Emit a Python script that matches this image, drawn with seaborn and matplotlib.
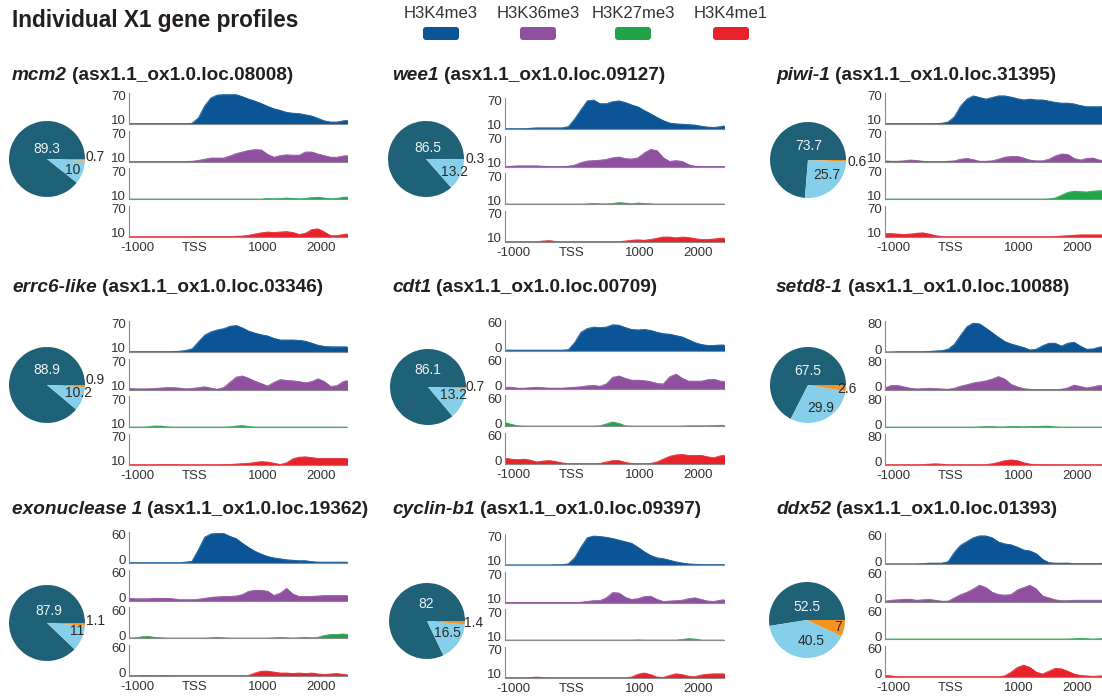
import numpy as np
import pandas as pd
import matplotlib
matplotlib.use("Agg")
import matplotlib.pyplot as plt
import matplotlib.transforms as mtransforms
import seaborn as sns
from matplotlib.patches import FancyBboxPatch

sns.set_theme(style="white")
plt.rcParams['font.family'] = ['Liberation Sans', 'DejaVu Sans']
plt.rcParams['patch.force_edgecolor'] = False

# ---------------- data ----------------
MARKS = ["H3K4me3", "H3K36me3", "H3K27me3", "H3K4me1"]
GENES = ["mcm2", "wee1", "piwi-1", "errc6-like", "cdt1", "setd8-1",
         "exonuclease 1", "cyclin-b1", "ddx52"]
LOCI = ["(asx1.1_ox1.0.loc.08008)", "(asx1.1_ox1.0.loc.09127)", "(asx1.1_ox1.0.loc.31395)",
        "(asx1.1_ox1.0.loc.03346)", "(asx1.1_ox1.0.loc.00709)", "(asx1.1_ox1.0.loc.10088)",
        "(asx1.1_ox1.0.loc.19362)", "(asx1.1_ox1.0.loc.09397)", "(asx1.1_ox1.0.loc.01393)"]
PIE_DARK = [89.3, 86.5, 73.7, 88.9, 86.1, 67.5, 87.9, 82, 52.5]
PIE_LIGHT = [10, 13.2, 25.7, 10.2, 13.2, 29.9, 11, 16.5, 40.5]
PIE_ORANGE = [0.7, 0.3, 0.6, 0.9, 0.7, 2.6, 1.1, 1.4, 7]
Y_TICKS = [(10, 70), (10, 70), (10, 70), (10, 70), (0, 60), (0, 80), (0, 60), (10, 70), (0, 60)]
X_TICKS = [-1000, 0, 1000, 2000]
X_TICK_LABELS = ["-1000", "TSS", "1000", "2000"]
POSITIONS = list(range(-1000, 2501, 100))

MCM2_K4ME3 = [1, 1, 1, 1, 1, 1, 1, 1, 1, 1, 2, 15, 45, 65, 72, 73, 73, 73, 68, 62, 57, 51, 44, 38, 34, 29, 27, 26, 23, 20, 14, 8, 5, 5, 8, 10]
MCM2_K36ME3 = [0.5, 0.5, 0.5, 0.5, 0.5, 0.5, 0.5, 0.5, 0.5, 0.5, 1, 3, 6, 9, 9, 9, 14, 20, 24, 28, 30, 29, 18, 11, 15, 17, 16, 16, 24, 24, 19, 15, 11, 11, 14, 16]
MCM2_K27ME3 = [0.5] * 22 + [2, 1, 1.5, 3, 2, 1, 2, 4, 5, 3, 1, 2, 5, 6]
MCM2_K4ME1 = [0.5] * 10 + [1, 1, 1, 1, 1, 1, 1, 1.5, 2, 4, 7, 10, 12, 11, 12, 13, 11, 6, 9, 18, 20, 12, 3, 3, 6, 8]

WEE1_K4ME3 = [1, 1, 1, 1, 2, 3, 3, 3, 3, 3, 6, 25, 48, 70, 72, 63, 63, 68, 70, 66, 60, 55, 46, 38, 29, 21, 15, 13, 12, 11, 10, 7, 5, 4, 6, 9]
WEE1_K36ME3 = [0.5, 1, 2, 2, 2, 2, 1, 0.5, 0.5, 0.5, 1, 4, 10, 14, 15, 16, 18, 22, 24, 20, 19, 22, 34, 43, 40, 22, 13, 15, 13, 5, 1, 0.5, 0.5, 0.5, 0.5, 0.5]
WEE1_K27ME3 = [0.5] * 13 + [1, 2, 1, 1, 2, 4, 3, 1, 3, 2, 1] + [0.5] * 12
WEE1_K4ME1 = [0.5, 0.5, 0.5, 0.5, 0.5, 0.5, 2, 3, 1, 0.5, 0.5] + [0.5] * 8 + [2, 4, 5, 4, 6, 9, 12, 12, 10, 12, 11, 8, 6, 6, 7, 9, 9]

PIWI1_K4ME3 = [1, 1, 1, 1, 1, 1, 1, 1, 1.5, 2, 5, 18, 45, 62, 70, 66, 62, 66, 70, 70, 67, 63, 60, 62, 60, 60, 57, 54, 52, 52, 50, 46, 43, 43, 43, 44]
PIWI1_K36ME3 = [2, 1, 1, 2, 4, 3, 1, 0.5, 0.5, 0.5, 1, 2, 6, 8, 5, 1, 1, 2, 6, 11, 13, 13, 9, 4, 2, 2, 6, 14, 19, 18, 8, 4, 8, 9, 4, 2]
PIWI1_K27ME3 = [0.5] * 26 + [1, 3, 10, 17, 20, 19, 18, 20, 21, 21]
PIWI1_K4ME1 = [8, 8, 7, 6, 7, 9, 10, 7, 3, 1] + [0.5] * 17 + [1, 2, 3, 4, 5, 5, 5, 5, 5]

ERRC6_K4ME3 = [1, 1, 1, 1, 1, 1, 1, 1.5, 2, 4, 8, 25, 42, 50, 55, 58, 64, 66, 60, 52, 47, 43, 40, 34, 30, 30, 30, 29, 27, 22, 17, 14, 13, 13, 13, 13]
ERRC6_K36ME3 = [3, 2, 2, 2, 3, 4, 5, 5, 4, 2, 3, 5, 7, 4, 1, 5, 18, 31, 34, 28, 21, 15, 9, 18, 25, 23, 22, 20, 17, 20, 27, 20, 8, 10, 20, 24]
ERRC6_K27ME3 = [0.5, 0.5, 0.5, 1, 3, 3, 1, 0.5, 0.5, 0.5, 0.5, 0.5, 0.5, 0.5, 0.5, 0.5, 1, 3, 4, 2] + [0.5] * 16
ERRC6_K4ME1 = [0.5, 0.5, 0.5, 0.5, 0.5, 1, 1, 1, 0.5, 0.5, 0.5, 0.5, 0.5, 0.5, 0.5, 1, 1, 2, 3, 4, 6, 8, 7, 4, 1, 5, 15, 19, 20, 18, 16, 16, 16, 16, 16, 16]

CDT1_K4ME3 = [2, 2, 2, 2, 2, 2, 2, 2, 2, 2, 3, 18, 40, 48, 51, 50, 51, 56, 55, 50, 46, 45, 46, 44, 40, 37, 36, 33, 30, 24, 18, 14, 12, 12, 13, 13]
CDT1_K36ME3 = [3, 3, 1, 1, 2, 3, 2, 1, 1, 1, 2, 3, 4, 6, 7, 5, 10, 24, 27, 22, 18, 18, 17, 15, 11, 10, 25, 31, 22, 16, 16, 16, 19, 20, 16, 15]
CDT1_K27ME3 = [8, 4, 1] + [0.5] * 12 + [1, 5, 9, 6, 1] + [0.5] * 9 + [1, 1, 1, 1, 1.5, 2, 2]
CDT1_K4ME1 = [12, 10, 9, 10, 8, 4, 6, 7, 5, 2, 0.5, 0.5, 0.5, 0.5, 0.5, 1, 4, 7, 7, 3, 1, 0.5, 0.5, 1, 4, 10, 16, 19, 20, 18, 18, 18, 15, 13, 17, 19]

SETD8_K4ME3 = [0.5, 0.5, 1, 1, 1, 1, 1, 2, 3, 4, 8, 22, 48, 72, 82, 80, 68, 55, 42, 30, 23, 18, 13, 6, 8, 18, 25, 25, 17, 25, 28, 17, 8, 9, 14, 16]
SETD8_K36ME3 = [5, 12, 12, 8, 4, 2, 3, 4, 3, 2, 1, 4, 10, 14, 19, 22, 25, 30, 37, 30, 15, 8, 3, 1, 0.5, 0.5, 0.5, 0.5, 1, 5, 13, 9, 5, 8, 12, 12]
SETD8_K27ME3 = [0.5] * 15 + [1, 2, 2, 1, 1, 2, 2, 1, 2, 2, 3, 3, 1] + [0.5] * 8
SETD8_K4ME1 = [0.5, 0.5, 0.5, 0.5, 0.5, 0.5, 1, 2, 3, 2, 0.5, 0.5, 0.5, 0.5, 0.5, 0.5, 1, 3, 7, 12, 14, 12, 6, 2, 1, 1, 1, 0.5, 0.5, 0.5, 0.5, 0.5, 0.5, 0.5, 0.5, 0.5]

EXO1_K4ME3 = [1, 1, 1, 1, 1, 1, 1, 1, 1, 2, 4, 28, 55, 62, 63, 63, 57, 52, 42, 33, 25, 19, 14, 11, 9, 7, 6, 5, 5, 3, 2, 2, 2, 2, 2, 2]
EXO1_K36ME3 = [5, 4, 4, 4, 5, 5, 5, 4, 2, 2, 2, 3, 5, 7, 8, 9, 9, 10, 13, 20, 22, 22, 20, 11, 16, 26, 14, 9, 9, 9, 10, 11, 11, 11, 11, 11]
EXO1_K27ME3 = [0.5, 1, 3, 4, 2, 1, 0.5, 0.5, 0.5, 0.5, 0.5, 0.5, 0.5, 1, 2, 1, 0.5, 0.5, 0.5, 0.5, 0.5, 0.5, 0.5, 1, 2, 1, 0.5, 1, 2, 1, 2, 6, 8, 8, 9, 8]
EXO1_K4ME1 = [0.5, 0.5, 1, 1, 0.5, 1, 1, 0.5, 0.5, 0.5, 0.5, 0.5, 0.5, 0.5, 0.5, 0.5, 0.5, 0.5, 0.5, 1, 6, 10, 10, 8, 6, 6, 5, 6, 5, 6, 4, 3, 4, 5, 3, 2]

CCNB1_K4ME3 = [0.5, 0.5, 0.5, 0.5, 0.5, 0.5, 0.5, 0.5, 1, 1, 3, 18, 45, 68, 72, 71, 69, 66, 62, 58, 54, 44, 33, 24, 18, 16, 12, 8, 5, 3, 2, 1.5, 1.5, 1.5, 1.5, 1.5]
CCNB1_K36ME3 = [0.5] * 12 + [1, 3, 5, 5, 12, 25, 24, 13, 8, 10, 15, 16, 8, 3, 4, 5, 6, 10, 12, 8, 4, 3, 6, 8]
CCNB1_K27ME3 = [0.5] * 21 + [1, 0.5, 0.5, 0.5, 0.5, 0.5, 0.5, 2, 4, 3, 0.5, 0.5, 0.5, 0.5, 0.5]
CCNB1_K4ME1 = [0.5, 0.5, 0.5, 0.5, 1, 2, 1, 0.5, 0.5, 0.5, 0.5, 0.5, 0.5, 0.5, 0.5, 0.5, 0.5, 0.5, 0.5, 0.5, 2, 9, 12, 8, 2, 1, 6, 10, 8, 4, 3, 7, 9, 10, 10, 10]

DDX52_K4ME3 = [0.5, 0.5, 0.5, 0.5, 0.5, 0.5, 1, 2, 2, 2, 5, 25, 40, 48, 56, 60, 60, 56, 47, 43, 41, 36, 30, 28, 22, 10, 3, 2, 2, 2, 1, 1, 1, 1, 1, 3]
DDX52_K36ME3 = [1, 3, 4, 5, 5, 3, 4, 5, 3, 1, 1, 8, 15, 20, 27, 35, 30, 20, 15, 14, 15, 25, 30, 35, 27, 12, 8, 4, 2, 2, 3, 3, 3, 3, 3, 3]
DDX52_K27ME3 = [0.5] * 30 + [1, 2, 1, 0.5, 1, 2]
DDX52_K4ME1 = [3, 2] + [0.5] * 17 + [2, 10, 20, 25, 20, 10, 6, 12, 18, 17, 12, 6, 3, 2, 1, 2, 2]

SERIES = [
    [MCM2_K4ME3, MCM2_K36ME3, MCM2_K27ME3, MCM2_K4ME1],
    [WEE1_K4ME3, WEE1_K36ME3, WEE1_K27ME3, WEE1_K4ME1],
    [PIWI1_K4ME3, PIWI1_K36ME3, PIWI1_K27ME3, PIWI1_K4ME1],
    [ERRC6_K4ME3, ERRC6_K36ME3, ERRC6_K27ME3, ERRC6_K4ME1],
    [CDT1_K4ME3, CDT1_K36ME3, CDT1_K27ME3, CDT1_K4ME1],
    [SETD8_K4ME3, SETD8_K36ME3, SETD8_K27ME3, SETD8_K4ME1],
    [EXO1_K4ME3, EXO1_K36ME3, EXO1_K27ME3, EXO1_K4ME1],
    [CCNB1_K4ME3, CCNB1_K36ME3, CCNB1_K27ME3, CCNB1_K4ME1],
    [DDX52_K4ME3, DDX52_K36ME3, DDX52_K27ME3, DDX52_K4ME1],
]

# ---------------- styles / layout ----------------
MARK_COLORS = ["#0b5596", "#8e509f", "#22a34a", "#e8222b"]
PIE_COLORS = ["#1f6176", "#85cfea", "#f6921e"]
TXT = "#231f20"
W, H = 1102, 697

COL_LEFT = [129, 505, 885]
COL_WIDTH = [218, 219, 218]
TRACK1_BOTTOM = [[124, 129, 124], [352, 351, 352], [563, 565, 564]]
TRACK_H = 31
PITCH = 37.6
TITLE_X = [12, 392, 776]
TITLE_Y = [75, 288, 510]
PIE_CENTER = [(47, 159), (426, 159), (808, 160), (47, 385), (428, 387), (808, 385),
              (47, 623), (427, 621), (807, 620)]
PIE_R = 38
DARK_LBL = [(0, 0.26), (0.06, 0.3), (0.03, 0.38), (0, 0.4), (0, 0.44), (0, 0.36),
            (0.04, 0.31), (-0.03, 0.46), (0, 0.34)]
LIGHT_LBL = [(0.68, -0.3), (0.76, -0.35), (0.5, -0.4), (0.82, -0.2), (0.68, -0.22),
             (0.33, -0.6), (0.78, -0.22), (0.53, -0.32), (0.12, -0.54)]
ORANGE_LBL = [(1.02, 0.06), (1.04, 0.0), (1.04, -0.06), (1.02, 0.12), (1.0, 0.0),
              (0.76, -0.1), (1.03, 0.05), (0.98, -0.04), (0.72, -0.19)]
XLABEL_DX = [8, 3, 8, 3]  # px shift of the x tick labels, as in the reference

fig = plt.figure(figsize=(W / 100, H / 100), dpi=100)


def px_axes(x, y_top, w, h):
    return fig.add_axes([x / W, 1 - (y_top + h) / H, w / W, h / H])


overlay = fig.add_axes([0, 0, 1, 1])
overlay.set_xlim(0, W)
overlay.set_ylim(H, 0)
overlay.axis("off")

overlay.text(12, 20, "Individual X1 gene profiles", fontsize=16.3, fontweight="bold",
             ha="left", va="center", color=TXT)
for mark, color, cx in zip(MARKS, MARK_COLORS, [441, 538, 633, 731]):
    overlay.text(cx, 14, mark, ha="center", va="center", fontsize=12, color="#333333")
    overlay.add_patch(FancyBboxPatch((cx - 15, 30), 30, 7, boxstyle="round,pad=3",
                                     fc=color, ec="none"))

fig.canvas.draw()
renderer = fig.canvas.get_renderer()

for p in range(9):
    row, col = divmod(p, 3)
    # title
    t1 = overlay.text(TITLE_X[col], TITLE_Y[row], GENES[p], fontsize=13.7, fontweight="bold",
                      fontstyle="italic", ha="left", va="center", color=TXT)
    wpx = t1.get_window_extent(renderer=renderer).width
    overlay.text(TITLE_X[col] + wpx + 5, TITLE_Y[row], LOCI[p], fontsize=13.7,
                 fontweight="bold", ha="left", va="center", color=TXT)

    # pie
    cx, cy = PIE_CENTER[p]
    pax = px_axes(cx - PIE_R, cy - PIE_R, 2 * PIE_R, 2 * PIE_R)
    pax.pie([PIE_DARK[p], PIE_LIGHT[p], PIE_ORANGE[p]], colors=PIE_COLORS, startangle=0,
            counterclock=True, radius=1, wedgeprops=dict(linewidth=0))
    pax.set_xlim(-1, 1)
    pax.set_ylim(-1, 1)
    pax.axis("off")
    pax.text(*DARK_LBL[p], f"{PIE_DARK[p]:g}", ha="center", va="center", fontsize=10,
             color="#eef3f6", clip_on=False)
    pax.text(*LIGHT_LBL[p], f"{PIE_LIGHT[p]:g}", ha="center", va="center", fontsize=10,
             color="#2a2a2a", clip_on=False)
    pax.text(*ORANGE_LBL[p], f"{PIE_ORANGE[p]:g}", ha="left", va="center", fontsize=10,
             color="#2a2a2a", clip_on=False)

    # tracks
    lo, hi = Y_TICKS[p]
    ytop = hi * 1.1
    for k in range(4):
        bottom = TRACK1_BOTTOM[row][col] + k * PITCH
        ax = px_axes(COL_LEFT[col], bottom - TRACK_H, COL_WIDTH[col], TRACK_H)
        df = pd.DataFrame({"pos": POSITIONS, "signal": SERIES[p][k]})
        ax.fill_between(df["pos"], df["signal"], 0, facecolor=MARK_COLORS[k],
                        edgecolor=MARK_COLORS[k], linewidth=0.5)
        sns.lineplot(data=df, x="pos", y="signal", ax=ax, color=MARK_COLORS[k],
                     linewidth=0.5)
        ax.set_xlim(-1000, 2460)
        ax.set_ylim(0, ytop)
        ax.set_xlabel("")
        ax.set_ylabel("")
        ax.set_facecolor("none")
        for s in ["top", "right"]:
            ax.spines[s].set_visible(False)
        for s in ["left", "bottom"]:
            ax.spines[s].set_color("#8a8a8a")
            ax.spines[s].set_linewidth(0.8)
        ax.set_yticks([lo, hi])
        ax.set_yticklabels([str(lo), str(hi)])
        ax.set_xticks(X_TICKS)
        if k == 3:
            ax.set_xticklabels(X_TICK_LABELS)
        else:
            ax.set_xticklabels([])
        ax.tick_params(axis="both", direction="in", length=3, width=0.6, color="#8a8a8a",
                       labelsize=9.5, labelcolor="#333333", pad=2)
        ax.tick_params(axis="x", pad=4)
        if k == 3:
            for lab, dx in zip(ax.get_xticklabels(), XLABEL_DX):
                lab.set_transform(lab.get_transform() + mtransforms.ScaledTranslation(
                    dx / 100, 0, fig.dpi_scale_trans))
        if lo == 0:
            lab0 = ax.get_yticklabels()[0]
            lab0.set_transform(lab0.get_transform() + mtransforms.ScaledTranslation(
                0, 3 / 100, fig.dpi_scale_trans))

fig.savefig("out.png", dpi=100)
